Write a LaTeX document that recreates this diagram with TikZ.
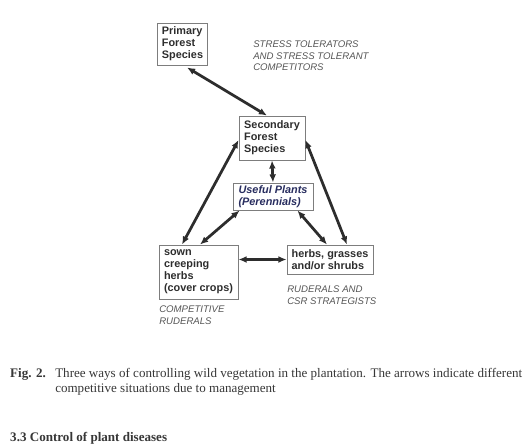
\documentclass[tikz,border=0pt]{standalone}
\usepackage{fontspec}
\setmainfont{Liberation Serif}
\setsansfont{Liberation Sans}
\usetikzlibrary{arrows.meta}

\definecolor{boxgray}{RGB}{125,125,125}
\definecolor{arrdark}{RGB}{45,45,45}
\definecolor{boxtext}{RGB}{45,45,45}
\definecolor{lbltext}{RGB}{85,85,85}
\definecolor{navytext}{RGB}{40,45,95}
\definecolor{captext}{RGB}{55,55,55}

\begin{document}
\begin{tikzpicture}[x=0.8pt, y=-0.8pt,
  box/.style={draw=boxgray, line width=0.7pt, inner xsep=3.5pt, inner ysep=2pt, align=left, text=boxtext,
    font=\sffamily\bfseries\fontsize{8.7}{9.6}\selectfont},
  lbl/.style={anchor=north west, inner sep=0pt, align=left, text=lbltext,
    font=\sffamily\itshape\fontsize{7.7}{9.1}\selectfont},
  arr/.style={draw=arrdark, line width=2.2pt, {Latex[length=6.5pt,width=5.5pt]}-{Latex[length=6.5pt,width=5.5pt]}},
  captxt/.style={anchor=base west, inner sep=0pt, text=captext, font=\fontsize{10.45}{12}\selectfont}]

\clip (0,0) rectangle (529,443);

\node[box, minimum width=39.2pt, minimum height=33.6pt] (primary) at (182.5,44) {Primary\\Forest\\Species};
\node[box, minimum width=52.8pt, minimum height=35.2pt] (secondary) at (272,138) {Secondary\\Forest\\Species};
\node[box, minimum width=64pt, minimum height=21.6pt, text=navytext,
  font=\sffamily\bfseries\itshape\fontsize{8.7}{9.6}\selectfont] (useful) at (273,196.5) {Useful Plants\\(Perennials)};
\node[box, minimum width=63.2pt, minimum height=43.2pt] (sown) at (198.5,272) {sown\\creeping\\herbs\\(cover crops)};
\node[box, minimum width=68.8pt, minimum height=23.2pt] (herbs) at (330,259.5) {herbs, grasses\\and/or shrubs};

\node[lbl] (stress) at (253,41) {STRESS TOLERATORS\\AND STRESS TOLERANT\\COMPETITORS};
\node[lbl] (compet) at (159,306) {COMPETITIVE\\RUDERALS};
\node[lbl] (ruder) at (287,286) {RUDERALS AND\\CSR STRATEGISTS};

\draw[arr] ([xshift=3.6pt, yshift=-1.6pt]primary.south) -- ([xshift=-4pt]secondary.north);
\draw[arr] (secondary.south) -- (useful.north);
\draw[arr] ([yshift=-1.6pt]secondary.west) -- ([xshift=-13.2pt]sown.north);
\draw[arr] ([yshift=-1.6pt]secondary.east) -- ([xshift=13.6pt]herbs.north);
\draw[arr] ([xshift=5.6pt]useful.south west) -- ([xshift=1.2pt]sown.north);
\draw[arr] ([xshift=-12.8pt]useful.south east) -- ([xshift=-2.4pt]herbs.north);
\draw[arr] (herbs.west) -- (sown.east |- herbs.west);

\node[captxt, font=\bfseries\fontsize{10.45}{12}\selectfont] (fig) at (10,377) {Fig. 2.};
\node[captxt] (capa) at (55,377) {Three ways of controlling wild vegetation in the plantation. The arrows indicate different};
\node[captxt] (capb) at (55,392) {competitive situations due to management};
\node[captxt, font=\bfseries\fontsize{10.45}{12}\selectfont] (sect) at (10,441) {3.3 Control of plant diseases};

\end{tikzpicture}
\end{document}
